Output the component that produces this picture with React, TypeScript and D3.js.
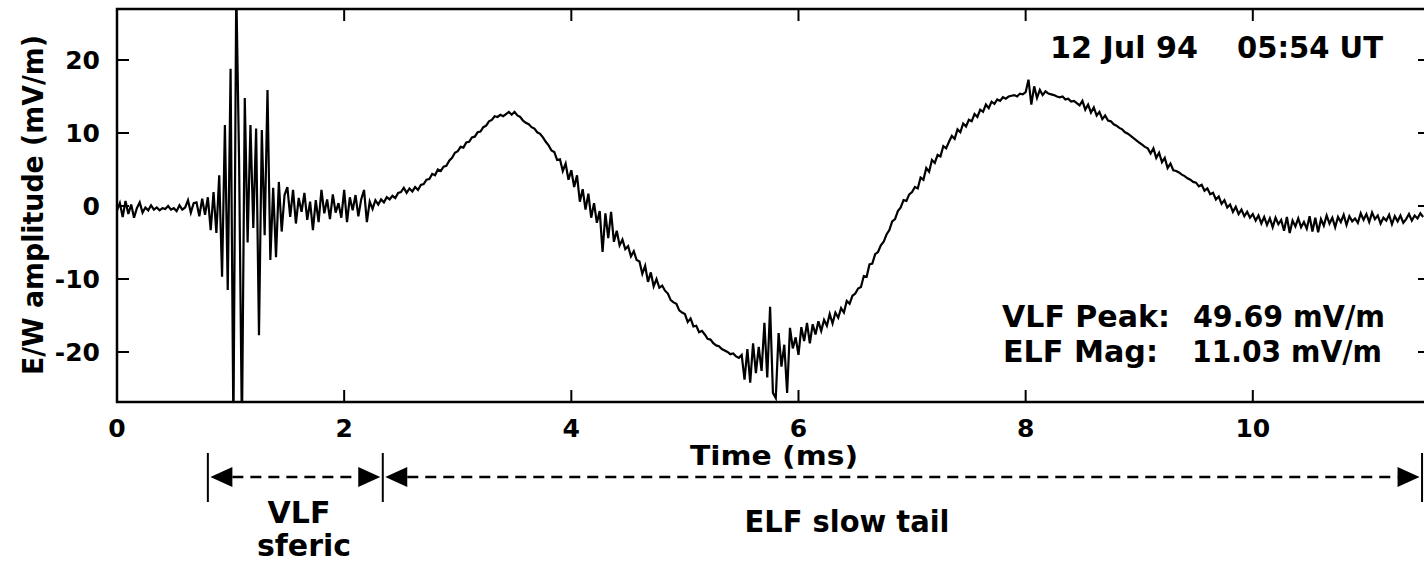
import React, { useEffect } from 'react';
import * as d3 from 'd3';

// Sampled E/W field amplitude (mV/m), one value every 0.025 ms, from 0 to 11.5 ms
const timeStepMs = 0.025;
const amplitude: number[] = [
  // 0.0 ms
  -0.6, 0.4, -1.5, 0.7, -1.1, 0.2, -1.6, -0.3, 0.5, -0.9, -0.2, -0.6, 0.1, -0.5, -0.2, -0.6, -0.3, -0.4, 0.0, -0.5,
  // 0.5 ms
  -0.3, -0.7, 0.1, -0.5, -0.2, 0.8, -0.9, 0.4, 0.5, -1.4, 1.0, -1.2, 1.2, -3.3, 1.9, -3.7, 4.2, -9.7, 11.1, -11.5,
  // 1.0 ms
  18.8, -31, 30, 6, -31, 14.8, -5, 11.1, -3, 10.6, -17.7, 10.4, -4, 15.9, -7.4, 2.5, -7, 3.3, -3.5, 1.5,
  // 1.5 ms
  2.6, -1.5, 2.2, -2.4, 1.1, -0.8, 1.8, -1.9, 0.6, -3.3, 0.8, -2.2, 2.2, -1.0, 0.9, -1.8, 1.6, -0.9, 0.4, -1.6,
  // 2.0 ms
  2.2, -2.2, 1.2, -0.6, 1.5, -1.4, 0.9, 2.2, -2.2, 0.6, -0.4, 0.8, 0.2, 0.9, 0.5, 1.2, 0.9, 1.4, 1.1, 1.8,
  // 2.5 ms
  1.9, 2.5, 1.8, 2.4, 2.0, 2.6, 2.2, 2.9, 3.0, 3.6, 3.7, 4.4, 4.2, 5.0, 4.8, 5.4, 5.5, 6.2, 6.6, 7.3,
  // 3.0 ms
  7.5, 8.1, 8.0, 8.7, 8.8, 9.4, 9.5, 10.1, 10.2, 10.8, 11.0, 11.6, 11.8, 12.3, 12.2, 12.5, 12.3, 12.6, 12.9, 12.5,
  // 3.5 ms
  12.9, 12.4, 12.2, 11.7, 11.4, 11.2, 10.8, 10.6, 10.1, 9.9, 9.4, 8.8, 8.3, 7.6, 7.4, 6.3, 6.4, 4.8, 5.8, 3.6,
  // 4.0 ms
  4.9, 2.6, 4.2, 0.6, 2.3, -0.5, 1.7, -1.6, 0.4, -2.3, -0.7, -6.3, -1.0, -4.4, -0.8, -4.9, -3.4, -5.4, -4.6, -5.9,
  // 4.5 ms
  -5.5, -6.9, -6.2, -7.4, -7.6, -9.3, -8.2, -10.4, -9.1, -11.0, -10.0, -11.2, -10.9, -11.6, -12.0, -12.9, -13.2, -13.4, -14.3, -14.6,
  // 5.0 ms
  -14.8, -15.9, -15.4, -16.5, -16.4, -17.3, -17.1, -17.6, -18.2, -18.3, -18.8, -19.1, -19.2, -19.6, -19.8, -20.0, -20.3, -20.2, -20.6, -20.8,
  // 5.5 ms
  -20.4, -23.8, -19.6, -24.2, -18.8, -22.9, -19.3, -22.6, -16.0, -23.5, -13.8, -25.6, -26.3, -17.4, -22.0, -19.0, -25.6, -16.7, -19.5, -18.0,
  // 6.0 ms
  -20.4, -16.6, -18.5, -16.0, -18.8, -16.2, -17.6, -15.8, -17.1, -15.6, -16.4, -14.8, -16.1, -14.6, -15.3, -14.0, -14.6, -13.0, -13.4, -12.3,
  // 6.5 ms
  -12.0, -11.3, -11.1, -9.6, -9.7, -8.0, -7.9, -6.6, -6.3, -5.4, -4.9, -3.9, -3.3, -2.1, -1.8, -0.7, -0.2, 0.8, 0.7, 1.6,
  // 7.0 ms
  1.9, 2.6, 2.4, 3.9, 3.6, 5.2, 4.7, 6.3, 5.9, 7.0, 6.8, 8.2, 7.9, 8.8, 9.6, 9.2, 10.5, 10.1, 11.3, 10.9,
  // 7.5 ms
  11.8, 11.6, 12.6, 12.2, 13.2, 12.9, 13.9, 13.4, 14.3, 14.0, 14.6, 14.4, 14.9, 14.7, 15.0, 15.1, 15.2, 15.0, 15.4, 15.3,
  // 8.0 ms
  15.6, 17.3, 13.9, 16.4, 14.8, 15.9, 15.2, 15.7, 15.4, 15.3, 15.2, 15.0, 14.9, 15.0, 14.6, 14.7, 14.3, 14.4, 14.1, 13.8,
  // 8.5 ms
  14.4, 13.2, 13.9, 12.8, 13.5, 12.4, 12.9, 11.9, 12.4, 11.7, 11.6, 11.2, 11.0, 10.7, 10.5, 10.1, 9.9, 9.6, 9.3, 9.0,
  // 9.0 ms
  8.7, 8.4, 8.1, 7.9, 7.2, 7.9, 6.6, 7.3, 6.0, 6.6, 5.2, 5.8, 4.9, 4.8, 4.6, 4.3, 4.1, 3.8, 3.6, 3.3,
  // 9.5 ms
  3.2, 2.7, 2.9, 2.1, 2.4, 1.6, 1.8, 0.9, 1.3, 0.3, 0.8, -0.2, 0.2, -0.8, -0.1, -1.1, -0.5, -1.4, -0.8, -1.6,
  // 10.0 ms
  -1.1, -2.0, -1.3, -2.4, -1.5, -2.6, -1.7, -2.9, -1.6, -2.5, -1.9, -3.4, -1.5, -3.7, -2.0, -2.8, -1.7, -2.9, -2.2, -3.1,
  // 10.5 ms
  -1.4, -3.5, -1.6, -3.6, -1.8, -2.7, -1.3, -2.4, -1.6, -2.9, -1.5, -2.2, -1.2, -2.6, -1.4, -2.1, -1.7, -2.3, -1.0, -1.9,
  // 11.0 ms
  -1.1, -2.2, -0.9, -1.8, -1.3, -2.4, -1.6, -2.0, -1.2, -2.5, -1.4, -2.1, -1.3, -2.3, -1.8, -1.1, -2.0, -1.3, -1.7, -1.0, -1.5,
];

const xTicks = [0, 2, 4, 6, 8, 10];
const yTicks = [-20, -10, 0, 10, 20];
const xDomain: [number, number] = [0, 11.56];
const yDomain: [number, number] = [-26.85, 26.99];

// Annotation spans (ms): VLF sferic from 0.80 to 2.34, ELF slow tail from 2.34 to 11.49
const spanBounds = [0.8, 2.34, 11.49];

const xLabel = 'Time (ms)';
const yLabel = 'E/W amplitude (mV/m)';
const dateLabel = '12 Jul 94';
const timeLabel = '05:54 UT';
const infoNames = ['VLF Peak:', 'ELF Mag:'];
const infoValues = ['49.69 mV/m', '11.03 mV/m'];

const W = 1424;
const H = 562;
const plot = { left: 117, top: 9, right: 1430, bottom: 402 };
const FONT = '"DejaVu Sans", Arial, sans-serif';

export default function App() {
  useEffect(() => {
    document.body.style.margin = '0';
    document.body.style.overflow = 'hidden';
  }, []);

  const x = d3.scaleLinear().domain(xDomain).range([plot.left, plot.right]);
  const y = d3.scaleLinear().domain(yDomain).range([plot.bottom, plot.top]);

  const line = d3
    .line<number>()
    .x((_, i) => x(i * timeStepMs))
    .y((d) => y(d));

  const tickLen = 12;
  const arrowY = 477;
  const barTop = 453;
  const barBottom = 502;
  const aw = 22;
  const ah = 10;
  const gap = 2.5;

  const [b0, b1, b2] = spanBounds.map((t) => x(t));

  const leftArrow = (tip: number) =>
    `M${tip},${arrowY}L${tip + aw},${arrowY - ah}L${tip + aw},${arrowY + ah}Z`;
  const rightArrow = (tip: number) =>
    `M${tip},${arrowY}L${tip - aw},${arrowY - ah}L${tip - aw},${arrowY + ah}Z`;

  return (
    <svg
      width={W}
      height={H}
      style={{ position: 'absolute', left: 0, top: 0, display: 'block', background: '#fff' }}
      fontFamily={FONT}
      fontWeight="bold"
    >
      <defs>
        <clipPath id="plotClip">
          <rect x={plot.left} y={plot.top} width={plot.right - plot.left} height={plot.bottom - plot.top} />
        </clipPath>
      </defs>
      <rect x={0} y={0} width={W} height={H} fill="#fff" />

      {/* waveform */}
      <path
        d={line(amplitude) || ''}
        fill="none"
        stroke="#000"
        strokeWidth={2.2}
        strokeLinejoin="miter"
        clipPath="url(#plotClip)"
      />

      {/* frame */}
      <rect
        x={plot.left}
        y={plot.top}
        width={plot.right - plot.left}
        height={plot.bottom - plot.top}
        fill="none"
        stroke="#000"
        strokeWidth={2.5}
      />

      {/* x ticks */}
      {xTicks.map((t) => (
        <g key={'xt' + t}>
          <line x1={x(t)} x2={x(t)} y1={plot.bottom} y2={plot.bottom - tickLen} stroke="#000" strokeWidth={2} />
          <line x1={x(t)} x2={x(t)} y1={plot.top} y2={plot.top + tickLen} stroke="#000" strokeWidth={2} />
          <text x={x(t)} y={437} textAnchor="middle" fontSize={25}>
            {t}
          </text>
        </g>
      ))}

      {/* y ticks */}
      {yTicks.map((v) => (
        <g key={'yt' + v}>
          <line x1={plot.left} x2={plot.left + tickLen} y1={y(v)} y2={y(v)} stroke="#000" strokeWidth={2} />
          <line x1={plot.right} x2={plot.right - tickLen} y1={y(v)} y2={y(v)} stroke="#000" strokeWidth={2} />
          <text x={100} y={y(v) + 9} textAnchor="end" fontSize={25}>
            {v}
          </text>
        </g>
      ))}

      {/* axis titles */}
      <text x={774} y={465} textAnchor="middle" fontSize={27} textLength={168} lengthAdjust="spacingAndGlyphs">
        {xLabel}
      </text>
      <text
        transform="translate(43,205) rotate(-90)"
        textAnchor="middle"
        fontSize={29}
        textLength={340}
        lengthAdjust="spacingAndGlyphs"
      >
        {yLabel}
      </text>

      {/* date / time */}
      <text x={1050} y={58} fontSize={30} textLength={148} lengthAdjust="spacingAndGlyphs">
        {dateLabel}
      </text>
      <text x={1237} y={58} fontSize={30} textLength={146} lengthAdjust="spacingAndGlyphs">
        {timeLabel}
      </text>

      {/* info */}
      <text x={1002} y={327} fontSize={30} textLength={168} lengthAdjust="spacingAndGlyphs">
        {infoNames[0]}
      </text>
      <text x={1193} y={327} fontSize={30} textLength={192} lengthAdjust="spacingAndGlyphs">
        {infoValues[0]}
      </text>
      <text x={1003} y={362} fontSize={30} textLength={155} lengthAdjust="spacingAndGlyphs">
        {infoNames[1]}
      </text>
      <text x={1192} y={362} fontSize={30} textLength={190} lengthAdjust="spacingAndGlyphs">
        {infoValues[1]}
      </text>

      {/* span annotations */}
      {[b0, b1, b2].map((bx, i) => (
        <line key={'bar' + i} x1={bx} x2={bx} y1={barTop} y2={barBottom} stroke="#000" strokeWidth={2} />
      ))}
      <line x1={b0 + gap + aw} x2={b1 - gap - aw} y1={arrowY} y2={arrowY} stroke="#000" strokeWidth={2.5} strokeDasharray="11,7" />
      <line x1={b1 + gap + aw} x2={b2 - gap - aw} y1={arrowY} y2={arrowY} stroke="#000" strokeWidth={2.5} strokeDasharray="11,7" />
      <path d={leftArrow(b0 + gap)} fill="#000" />
      <path d={rightArrow(b1 - gap)} fill="#000" />
      <path d={leftArrow(b1 + gap)} fill="#000" />
      <path d={rightArrow(b2 - gap)} fill="#000" />

      <text x={299} y={523} textAnchor="middle" fontSize={30}>
        VLF
      </text>
      <text x={304} y={556} textAnchor="middle" fontSize={30}>
        sferic
      </text>
      <text x={847} y={532} textAnchor="middle" fontSize={30} textLength={205} lengthAdjust="spacingAndGlyphs">
        ELF slow tail
      </text>
    </svg>
  );
}
